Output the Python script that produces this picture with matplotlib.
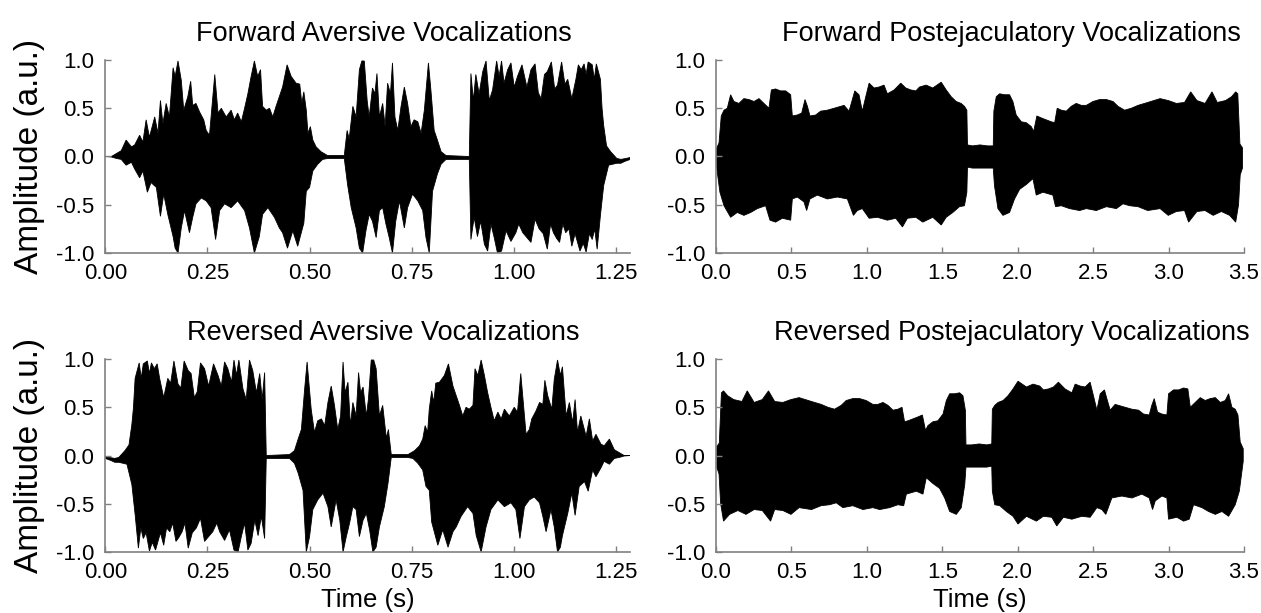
import numpy as np
import matplotlib
matplotlib.use("Agg")
import matplotlib.pyplot as plt

# Envelope of the aversive call (time in s, amplitude in a.u.)
aversive_t_top = [0.000, 0.015, 0.027, 0.039, 0.051, 0.064, 0.072, 0.084, 0.092, 0.100,
                  0.108, 0.121, 0.129, 0.135, 0.141, 0.149, 0.157, 0.166, 0.171, 0.178,
                  0.186, 0.192, 0.202, 0.209, 0.214, 0.222, 0.231, 0.241, 0.247, 0.255,
                  0.268, 0.276, 0.284, 0.296, 0.308, 0.316, 0.324, 0.333, 0.341, 0.349,
                  0.357, 0.365, 0.373, 0.380, 0.385, 0.394, 0.402, 0.410, 0.418, 0.426,
                  0.434, 0.445, 0.455, 0.467, 0.476, 0.481, 0.486, 0.492, 0.496, 0.502,
                  0.508, 0.516, 0.528, 0.544, 0.585, 0.592, 0.597, 0.606, 0.614, 0.622,
                  0.628, 0.634, 0.641, 0.646, 0.654, 0.660, 0.665, 0.671, 0.679, 0.685,
                  0.691, 0.698, 0.703, 0.709, 0.716, 0.724, 0.732, 0.740, 0.748, 0.756,
                  0.765, 0.773, 0.781, 0.791, 0.797, 0.805, 0.813, 0.822, 0.834, 0.891,
                  0.895, 0.901, 0.907, 0.915, 0.924, 0.932, 0.940, 0.948, 0.958, 0.964,
                  0.970, 0.976, 0.985, 0.993, 1.001, 1.009, 1.020, 1.032, 1.042, 1.052,
                  1.060, 1.067, 1.075, 1.082, 1.092, 1.100, 1.107, 1.117, 1.125, 1.132,
                  1.142, 1.152, 1.158, 1.165, 1.172, 1.177, 1.182, 1.192, 1.197, 1.202,
                  1.212, 1.216, 1.220, 1.227, 1.237, 1.252, 1.262, 1.275, 1.285]
aversive_top = [0.00, 0.00, 0.03, 0.06, 0.17, 0.10, 0.12, 0.22, 0.15, 0.38,
                0.20, 0.41, 0.24, 0.58, 0.34, 0.55, 0.41, 0.92, 0.83, 0.99,
                0.79, 0.48, 0.62, 0.78, 0.53, 0.55, 0.46, 0.38, 0.27, 0.22,
                0.85, 0.45, 0.50, 0.41, 0.48, 0.38, 0.45, 0.36, 0.50, 0.65,
                0.83, 0.99, 0.83, 0.90, 0.52, 0.48, 0.50, 0.41, 0.52, 0.62,
                0.72, 0.95, 0.83, 0.76, 0.75, 0.55, 0.67, 0.48, 0.24, 0.31,
                0.17, 0.10, 0.05, 0.01, 0.01, 0.27, 0.18, 0.52, 0.41, 0.90,
                0.99, 0.99, 0.58, 0.41, 0.71, 0.65, 0.86, 0.41, 0.55, 0.31,
                0.76, 0.65, 0.97, 0.41, 0.27, 0.52, 0.72, 0.55, 0.31, 0.38,
                0.36, 0.24, 0.48, 0.97, 0.69, 0.27, 0.17, 0.05, 0.01, 0.00,
                0.86, 0.58, 0.85, 0.65, 0.88, 0.99, 0.58, 0.69, 0.99, 0.83,
                0.99, 0.76, 0.90, 0.97, 0.72, 0.83, 0.95, 0.72, 0.90, 0.96,
                0.66, 0.60, 0.85, 0.88, 0.98, 0.70, 0.74, 0.98, 0.75, 0.80,
                0.60, 0.80, 0.95, 0.90, 0.96, 0.85, 0.98, 0.95, 0.80, 0.96,
                0.80, 0.50, 0.32, 0.11, 0.05, -0.02, -0.03, -0.02, -0.01]
aversive_t_bot = [0.000, 0.015, 0.027, 0.039, 0.051, 0.064, 0.072, 0.084, 0.092, 0.103,
                  0.112, 0.125, 0.135, 0.143, 0.153, 0.166, 0.171, 0.178, 0.186, 0.194,
                  0.206, 0.214, 0.222, 0.235, 0.247, 0.259, 0.270, 0.280, 0.292, 0.308,
                  0.324, 0.341, 0.353, 0.365, 0.377, 0.385, 0.398, 0.414, 0.426, 0.434,
                  0.446, 0.459, 0.471, 0.486, 0.492, 0.500, 0.508, 0.520, 0.532, 0.545,
                  0.585, 0.593, 0.602, 0.614, 0.622, 0.630, 0.638, 0.646, 0.654, 0.663,
                  0.671, 0.679, 0.687, 0.695, 0.703, 0.711, 0.720, 0.732, 0.740, 0.752,
                  0.765, 0.777, 0.785, 0.793, 0.801, 0.813, 0.822, 0.834, 0.891, 0.895,
                  0.903, 0.911, 0.919, 0.928, 0.936, 0.944, 0.952, 0.960, 0.970, 0.981,
                  0.993, 1.005, 1.012, 1.022, 1.042, 1.052, 1.062, 1.072, 1.082, 1.090,
                  1.097, 1.105, 1.112, 1.120, 1.127, 1.135, 1.142, 1.150, 1.162, 1.170,
                  1.177, 1.185, 1.192, 1.198, 1.204, 1.212, 1.220, 1.232, 1.242, 1.252,
                  1.262, 1.272, 1.285]
aversive_bot = [0.00, -0.005, -0.02, -0.03, -0.09, -0.06, -0.13, -0.22, -0.15, -0.37,
                -0.27, -0.32, -0.62, -0.39, -0.60, -0.83, -0.95, -1.00, -0.74, -0.56,
                -0.79, -0.63, -0.49, -0.43, -0.46, -0.53, -0.86, -0.56, -0.49, -0.53,
                -0.46, -0.56, -0.74, -1.00, -0.83, -0.60, -0.53, -0.63, -0.74, -0.79,
                -0.95, -0.77, -0.93, -0.69, -0.36, -0.32, -0.15, -0.08, -0.03, -0.02,
                -0.02, -0.29, -0.53, -0.74, -0.95, -1.00, -0.77, -0.60, -0.67, -0.84,
                -0.56, -0.53, -0.70, -0.84, -1.00, -0.67, -0.46, -0.74, -0.53, -0.39,
                -0.46, -0.56, -0.84, -1.00, -0.36, -0.18, -0.08, -0.03, -0.03, -0.86,
                -0.63, -0.83, -0.67, -0.91, -0.98, -0.70, -0.84, -1.00, -0.98, -0.77,
                -0.88, -0.79, -0.70, -0.79, -0.89, -0.65, -0.75, -0.80, -0.96, -0.70,
                -0.79, -0.85, -0.89, -0.70, -0.79, -0.75, -0.93, -0.80, -0.98, -0.90,
                -0.99, -0.80, -0.86, -0.75, -0.96, -0.61, -0.30, -0.09, -0.08, -0.07,
                -0.07, -0.05, -0.03]
aversive_len = 1.285

# Envelope of the postejaculatory call, forward trace
post_t_top = [0.000, 0.020, 0.035, 0.053, 0.075, 0.097, 0.119, 0.152, 0.185, 0.219,
              0.252, 0.285, 0.318, 0.351, 0.367, 0.395, 0.428, 0.462, 0.495, 0.506,
              0.539, 0.568, 0.590, 0.606, 0.623, 0.661, 0.694, 0.738, 0.783, 0.849,
              0.882, 0.904, 0.920, 0.948, 0.970, 0.993, 1.015, 1.048, 1.081, 1.114,
              1.136, 1.181, 1.225, 1.258, 1.291, 1.325, 1.349, 1.393, 1.437, 1.493,
              1.526, 1.559, 1.592, 1.625, 1.647, 1.663, 1.667, 1.700, 1.750, 1.800,
              1.838, 1.842, 1.858, 1.880, 1.913, 1.946, 1.968, 1.990, 2.024, 2.057,
              2.090, 2.106, 2.127, 2.156, 2.189, 2.222, 2.245, 2.262, 2.289, 2.322,
              2.355, 2.388, 2.422, 2.455, 2.499, 2.543, 2.588, 2.632, 2.665, 2.709,
              2.753, 2.798, 2.862, 2.944, 2.998, 3.052, 3.106, 3.147, 3.188, 3.242,
              3.288, 3.323, 3.378, 3.418, 3.445, 3.459, 3.473, 3.490]
post_top = [0.07, 0.14, 0.42, 0.48, 0.50, 0.64, 0.57, 0.55, 0.60, 0.59,
            0.57, 0.60, 0.55, 0.50, 0.69, 0.70, 0.68, 0.68, 0.64, 0.42,
            0.43, 0.45, 0.59, 0.52, 0.42, 0.43, 0.47, 0.48, 0.50, 0.53,
            0.47, 0.59, 0.68, 0.64, 0.47, 0.62, 0.76, 0.71, 0.72, 0.74,
            0.65, 0.69, 0.76, 0.71, 0.69, 0.68, 0.72, 0.74, 0.71, 0.77,
            0.69, 0.62, 0.57, 0.55, 0.52, 0.48, 0.12, 0.11, 0.12, 0.11,
            0.11, 0.47, 0.62, 0.65, 0.64, 0.64, 0.57, 0.43, 0.36, 0.35,
            0.31, 0.26, 0.42, 0.40, 0.38, 0.36, 0.35, 0.50, 0.48, 0.47,
            0.52, 0.55, 0.53, 0.53, 0.57, 0.59, 0.59, 0.57, 0.52, 0.48,
            0.50, 0.53, 0.56, 0.60, 0.58, 0.55, 0.56, 0.67, 0.58, 0.55,
            0.67, 0.56, 0.58, 0.62, 0.67, 0.65, 0.13, 0.09]
post_t_bot = [0.000, 0.026, 0.053, 0.097, 0.141, 0.185, 0.230, 0.274, 0.329, 0.358,
              0.395, 0.440, 0.495, 0.506, 0.539, 0.583, 0.601, 0.623, 0.672, 0.738,
              0.805, 0.871, 0.911, 0.937, 0.970, 1.015, 1.070, 1.136, 1.192, 1.236,
              1.269, 1.325, 1.371, 1.437, 1.493, 1.526, 1.570, 1.614, 1.647, 1.663,
              1.667, 1.700, 1.750, 1.800, 1.838, 1.846, 1.869, 1.902, 1.946, 1.979,
              2.013, 2.057, 2.101, 2.123, 2.167, 2.233, 2.251, 2.289, 2.344, 2.410,
              2.455, 2.521, 2.588, 2.654, 2.698, 2.742, 2.798, 2.862, 2.944, 2.998,
              3.052, 3.106, 3.133, 3.188, 3.242, 3.296, 3.350, 3.405, 3.445, 3.464,
              3.475, 3.490]
post_bot = [-0.06, -0.37, -0.51, -0.63, -0.58, -0.61, -0.58, -0.54, -0.51, -0.66,
            -0.68, -0.64, -0.66, -0.44, -0.42, -0.47, -0.56, -0.44, -0.40, -0.44,
            -0.42, -0.44, -0.61, -0.56, -0.54, -0.64, -0.63, -0.66, -0.64, -0.73,
            -0.64, -0.63, -0.68, -0.63, -0.71, -0.63, -0.58, -0.52, -0.51, -0.37,
            -0.11, -0.12, -0.12, -0.12, -0.12, -0.30, -0.54, -0.61, -0.58, -0.44,
            -0.34, -0.29, -0.23, -0.40, -0.37, -0.40, -0.52, -0.51, -0.54, -0.56,
            -0.54, -0.56, -0.52, -0.54, -0.49, -0.51, -0.52, -0.56, -0.54, -0.61,
            -0.57, -0.56, -0.68, -0.57, -0.56, -0.61, -0.57, -0.61, -0.68, -0.50,
            -0.19, -0.12]
post_len = 3.495

aversive_ticks = [0.0, 0.25, 0.5, 0.75, 1.0, 1.25]
post_ticks = [0.0, 0.5, 1.0, 1.5, 2.0, 2.5, 3.0, 3.5]
amp_ticks = [-1.0, -0.5, 0.0, 0.5, 1.0]

plt.rcParams['font.family'] = ['Liberation Sans', 'DejaVu Sans']
plt.rcParams['axes.unicode_minus'] = False

GRAY = '#808080'


def draw_wave(ax, t_top, top, t_bot, bot, length, reverse):
    t_top = np.asarray(t_top)
    t_bot = np.asarray(t_bot)
    if reverse:
        # reversed stimulus = same recording played backwards
        t_top = length - t_top
        t_bot = length - t_bot
    xs = np.concatenate([t_top, t_bot[::-1]])
    ys = np.concatenate([top, bot[::-1]])
    ax.fill(xs, ys, color='black', lw=0.6)


def style(ax, xmax, xticks, fmt, title, title_x, ylabel, xlabel):
    ax.set_xlim(0, xmax)
    ax.set_ylim(-1.0, 1.0)
    ax.set_xticks(xticks)
    ax.set_xticklabels([fmt % v for v in xticks])
    ax.set_yticks(amp_ticks)
    ax.set_yticklabels(['%.1f' % v for v in amp_ticks])
    for side in ('top', 'right'):
        ax.spines[side].set_visible(False)
    for side in ('left', 'bottom'):
        ax.spines[side].set_color(GRAY)
        ax.spines[side].set_linewidth(1.2)
    ax.tick_params(direction='in', length=4, width=1, color=GRAY,
                   labelcolor='black', labelsize=16)
    ax.tick_params(axis='y', pad=8)
    ax.tick_params(axis='x', pad=7)
    ax.set_title(title, fontsize=19.5, x=title_x, pad=14)
    if ylabel:
        ax.set_ylabel('Amplitude (a.u.)', fontsize=24, labelpad=8)
    if xlabel:
        ax.set_xlabel('Time (s)', fontsize=18.5, labelpad=4)


fig = plt.figure(figsize=(12.61, 6.13), dpi=100)
ax_fa = fig.add_axes([0.0835, 0.5873, 0.4163, 0.3148])
ax_fp = fig.add_axes([0.5678, 0.5873, 0.4187, 0.3148])
ax_ra = fig.add_axes([0.0835, 0.0995, 0.4163, 0.3148])
ax_rp = fig.add_axes([0.5678, 0.0995, 0.4187, 0.3148])

draw_wave(ax_fa, aversive_t_top, aversive_top, aversive_t_bot, aversive_bot, aversive_len, False)
draw_wave(ax_ra, aversive_t_top, aversive_top, aversive_t_bot, aversive_bot, aversive_len, True)
draw_wave(ax_fp, post_t_top, post_top, post_t_bot, post_bot, post_len, False)
draw_wave(ax_rp, post_t_top, post_top, post_t_bot, post_bot, post_len, True)

style(ax_fa, aversive_len, aversive_ticks, '%.2f', 'Forward Aversive Vocalizations', 0.53, True, False)
style(ax_ra, aversive_len, aversive_ticks, '%.2f', 'Reversed Aversive Vocalizations', 0.53, True, True)
style(ax_fp, 3.5, post_ticks, '%.1f', 'Forward Postejaculatory Vocalizations', 0.56, False, False)
style(ax_rp, 3.5, post_ticks, '%.1f', 'Reversed Postejaculatory Vocalizations', 0.56, False, True)

fig.savefig('out.png', dpi=100)
